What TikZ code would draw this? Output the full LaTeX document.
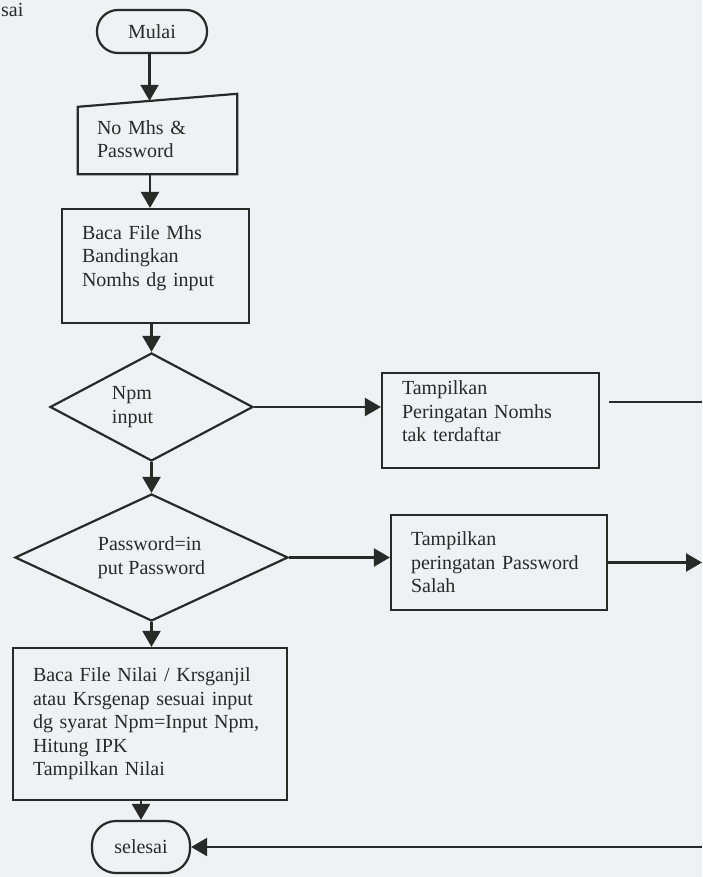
\documentclass[tikz,border=0pt]{standalone}
\usepackage{fontspec}
\setmainfont{Liberation Serif}
\usetikzlibrary{shapes.geometric,arrows.meta,calc}
\definecolor{inkgray}{RGB}{40,42,40}
\definecolor{paper}{RGB}{238,242,244}

\begin{document}
\begin{tikzpicture}[x=1pt,y=1pt,yscale=-1,xscale=1,
  every node/.style={font=\fontsize{20}{23.5}\selectfont, text=inkgray},
  terminal/.style={draw=inkgray, line width=2.2pt, rounded corners=21pt, inner sep=0pt},
  procbox/.style={draw=inkgray, line width=2.2pt, align=left, inner xsep=20pt, inner ysep=0pt},
  decision/.style={draw=inkgray, line width=2.2pt, diamond, aspect=2, align=left, inner sep=0pt},
  flow/.style={draw=inkgray, line width=2.2pt, -{Triangle[width=18pt,length=16pt]}}]
%set diagram left start at 0, and has height of 877
\path[use as bounding box, fill=paper] (0,0) rectangle (702,877);

%Text
\node[anchor=base west, inner sep=0pt] (sai) at (1,17) {sai};

%Flowchart: Terminal
\node[terminal, minimum width=110pt, minimum height=43pt] (mulai) at (152,31.5) {Mulai};

%Flowchart: Manual Input
\node[align=left, text width=121pt, inner xsep=19pt, inner ysep=0pt, minimum height=80pt] (inp) at (157.5,134) {\rule{0pt}{24pt}No Mhs \&\\Password};
\draw[draw=inkgray, line width=2.2pt] (inp.south west) -- (inp.south east) -- (inp.north east) -- ($(inp.north west)+(0,13)$) -- cycle;

%Flowchart: Process
\node[procbox, text width=147pt, minimum height=114pt] (mhs) at (155.5,266) {Baca File Mhs\\Bandingkan\\Nomhs dg input\rule[-20pt]{0pt}{20pt}};

%Flowchart: Decision
\node[decision, minimum width=203pt, minimum height=108pt] (npm) at (151.5,407) {Npm\\input\hspace*{38pt}};
\node[procbox, text width=177pt, minimum height=95pt] (warn1) at (490.5,420.5) {Tampilkan\\Peringatan Nomhs\\tak terdaftar\rule[-18pt]{0pt}{18pt}};

%Flowchart: Decision
\node[decision, minimum width=273pt, minimum height=127pt] (pwd) at (151.5,557.5) {Password=in\\put Password};
\node[procbox, text width=176pt, minimum height=95pt] (warn2) at (499,562.5) {Tampilkan\\peringatan Password\\Salah};

%Flowchart: Process
\node[procbox, text width=234pt, minimum height=152pt] (nilai) at (150,724) {Baca File Nilai / Krsganjil\\atau Krsgenap sesuai input\\dg syarat Npm=Input Npm,\\Hitung IPK\\Tampilkan Nilai};

%Flowchart: Terminal
\node[terminal, minimum width=98pt, minimum height=52pt, rounded corners=24pt] (selesai) at (141,847) {selesai};

\coordinate (col) at (150,0);
\coordinate (rim) at (702,0);
\coordinate (inpin) at ($(inp.north west)!0.45!(inp.north east)+(0,7)$);
\coordinate (e1) at ($(warn1.east)+(9,-18.5)$);

%Straight Lines
\draw[flow] (mulai.south -| inpin) -- (inpin);
\draw[flow] (inp.south -| col) -- (mhs.north -| col);
\draw[flow] (mhs.south -| npm.north) -- (npm.north);
\draw[flow] (npm.east) -- (npm.east -| warn1.west);
\draw[flow] (npm.south) -- (pwd.north);
\draw[flow] (pwd.east) -- (pwd.east -| warn2.west);
\draw[flow] (pwd.south) -- (pwd.south |- nilai.north);
\draw[flow] (nilai.south -| selesai.north) -- (selesai.north);
\draw[flow] (warn2.east) -- (warn2.east -| rim);
\draw[flow] (selesai.east -| rim) -- (selesai.east);
\draw[draw=inkgray, line width=2.2pt] (e1) -- (e1 -| rim);

\end{tikzpicture}
\end{document}
